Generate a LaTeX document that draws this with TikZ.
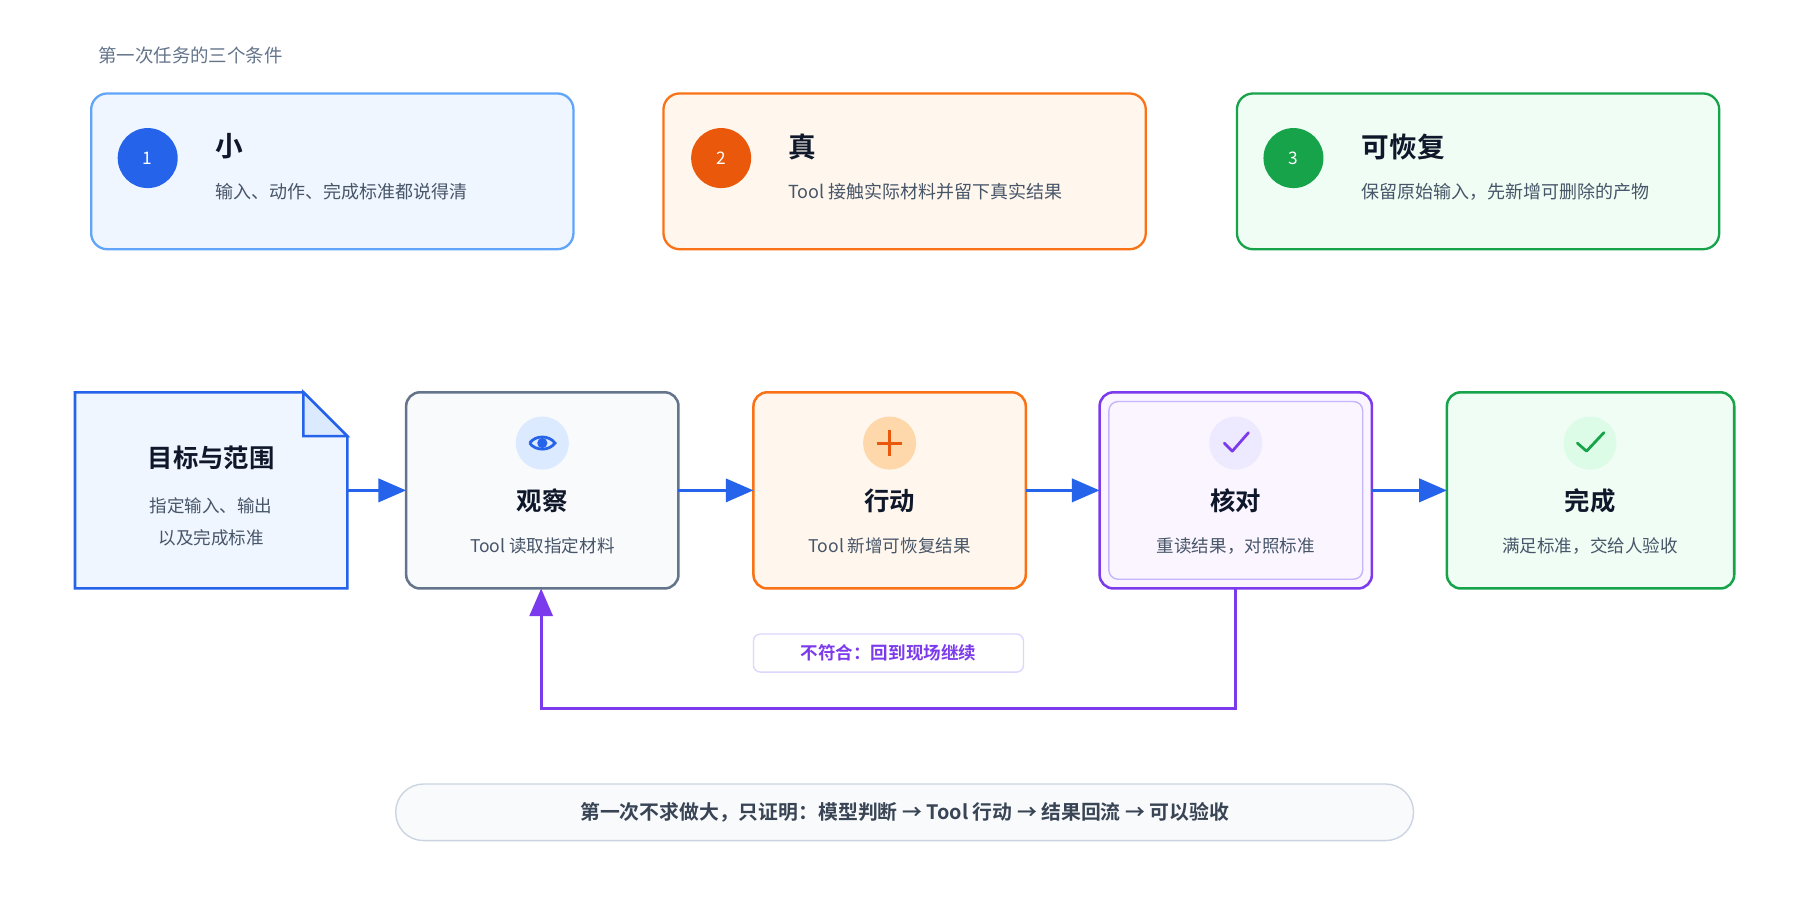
\documentclass[tikz,border=0pt]{standalone}
\usepackage{fontspec}
\setmainfont{Noto Sans CJK SC}
\newfontfamily\cjkb{Noto Sans CJK SC Bold}
\usetikzlibrary{arrows.meta}
\definecolor{tx}{HTML}{0F172A}
\definecolor{sub}{HTML}{475569}
\definecolor{bl}{HTML}{2563EB}
\definecolor{or}{HTML}{F97316}
\definecolor{ord}{HTML}{EA580C}
\definecolor{gr}{HTML}{16A34A}
\definecolor{pu}{HTML}{7C3AED}
\definecolor{sl}{HTML}{64748B}
\definecolor{lb}{HTML}{60A5FA}
\definecolor{fb}{HTML}{EFF6FF}
\definecolor{fb2}{HTML}{DBEAFE}
\definecolor{fo}{HTML}{FFF7ED}
\definecolor{fo2}{HTML}{FED7AA}
\definecolor{fg}{HTML}{F0FDF4}
\definecolor{fg2}{HTML}{DCFCE7}
\definecolor{fp}{HTML}{FAF5FF}
\definecolor{fp2}{HTML}{EDE9FE}
\definecolor{fp3}{HTML}{C4B5FD}
\definecolor{fp4}{HTML}{DDD6FE}
\definecolor{fs}{HTML}{F8FAFC}
\definecolor{bs}{HTML}{CBD5E1}
\begin{document}
\begin{tikzpicture}[x=0.5pt,y=-0.5pt,
  card/.style={rounded corners=7pt,line width=1pt},
  box/.style={rounded corners=6pt,line width=1.1pt},
  num/.style={circle,minimum size=26pt,inner sep=0,text=white,font=\fontsize{7.5}{8}\selectfont},
  head/.style={anchor=west,text=tx,font=\cjkb\fontsize{12}{13}\selectfont},
  desc/.style={anchor=west,text=sub,font=\fontsize{7.8}{9}\selectfont},
  ttl/.style={text=tx,font=\cjkb\fontsize{11}{12}\selectfont},
  st/.style={text=sub,font=\fontsize{7.6}{9}\selectfont},
  flow/.style={bl,line width=1.5pt,-{Triangle[length=12pt,width=10pt]}},
  icon/.style={circle,minimum size=23pt,inner sep=0}]
\path[use as bounding box] (0,0) rectangle (1560,780);
\fill[white] (0,0) rectangle (1560,780);
\node[anchor=west,text=sl,font=\fontsize{8}{9}\selectfont] (t0) at (78,48) {第一次任务的三个条件};
% cards
\draw[card,draw=lb,fill=fb] (79,81) rectangle (497,216);
\node[num,fill=bl] (n1) at (128,137) {1};
\node[head] (h1) at (180,127) {小};
\node[desc] (d1) at (180,166) {输入、动作、完成标准都说得清};
\draw[card,draw=or,fill=fo] (575,81) rectangle (993,216);
\node[num,fill=ord] (n2) at (625,137) {2};
\node[head] (h2) at (676,127) {真};
\node[desc] (d2) at (676,166) {Tool 接触实际材料并留下真实结果};
\draw[card,draw=gr,fill=fg] (1072,81) rectangle (1490,216);
\node[num,fill=gr] (n3) at (1121,137) {3};
\node[head] (h3) at (1173,127) {可恢复};
\node[desc] (d3) at (1173,166) {保留原始输入，先新增可删除的产物};
% doc
\draw[line width=1.1pt,draw=bl,fill=fb] (65,340) -- (263,340) -- (301,378) -- (301,510) -- (65,510) -- cycle;
\draw[line width=1.1pt,draw=bl,fill=fb2] (263,340) -- (263,378) -- (301,378) -- cycle;
\node[ttl] (doc) at (183,397) {目标与范围};
\node[st,align=center] (docs) at (183,452) {指定输入、输出\\[5pt]以及完成标准};
\coordinate (docR) at (301,425);
% boxes
\draw[box,draw=sl,fill=fs] (352,340) rectangle (588,510);
\node[icon,fill=fb2] (i1) at (470,384) {};
\draw[bl,line width=1.2pt] (459,384) .. controls (464,377) and (476,377) .. (481,384) .. controls (476,391) and (464,391) .. (459,384);
\fill[bl] (470,384) circle (2.2pt);
\node[ttl] (b1) at (470,434) {观察};
\node[st] (s1) at (470,473) {Tool 读取指定材料};
\coordinate (b1L) at (352,425); \coordinate (b1R) at (588,425);

\draw[box,draw=or,fill=fo] (653,340) rectangle (889,510);
\node[icon,fill=fo2] (i2) at (771,384) {};
\draw[ord,line width=1.3pt] (760,384) -- (782,384) (771,373) -- (771,395);
\node[ttl] (b2) at (771,434) {行动};
\node[st] (s2) at (771,473) {Tool 新增可恢复结果};
\coordinate (b2L) at (653,425); \coordinate (b2R) at (889,425);

\draw[box,draw=pu,fill=fp] (953,340) rectangle (1189,510);
\draw[rounded corners=4pt,draw=fp3,line width=0.6pt] (961,348) rectangle (1181,502);
\node[icon,fill=fp2] (i3) at (1071,384) {};
\draw[pu,line width=1.2pt,line cap=round,line join=round] (1061,384) -- (1068,391) -- (1082,375);
\node[ttl] (b3) at (1071,434) {核对};
\node[st] (s3) at (1071,473) {重读结果，对照标准};
\coordinate (b3L) at (953,425); \coordinate (b3R) at (1189,425);
\coordinate (b3B) at (1071,510);

\draw[box,draw=gr,fill=fg] (1254,340) rectangle (1503,510);
\node[icon,fill=fg2] (i4) at (1378,384) {};
\draw[gr,line width=1.2pt,line cap=round,line join=round] (1367,384) -- (1375,391) -- (1390,375);
\node[ttl] (b4) at (1378,434) {完成};
\node[st] (s4) at (1378,473) {满足标准，交给人验收};
\coordinate (b4L) at (1254,425);
\coordinate (b1B) at (469,510);
% arrows
\draw[flow] (docR) -- (b1L);
\draw[flow] (b1R) -- (b2L);
\draw[flow] (b2R) -- (b3L);
\draw[flow] (b3R) -- (b4L);
\draw[pu,line width=1.3pt,-{Triangle[length=12pt,width=10pt]}] (b3B) -- (1071,614) -- (469,614) -- (b1B);
\node[draw=fp4,fill=white,rounded corners=3pt,line width=0.6pt,minimum width=117pt,minimum height=16.5pt,text=pu,font=\cjkb\fontsize{7.6}{8}\selectfont] (lbl) at (770,566) {不符合：回到现场继续};
% bottom
\node[draw=bs,fill=fs,rounded corners=12pt,line width=0.6pt,minimum width=441pt,minimum height=24.5pt,text=sub!80!black,font=\cjkb\fontsize{8.6}{9}\selectfont] (pill) at (784,704) {第一次不求做大，只证明：模型判断 → Tool 行动 → 结果回流 → 可以验收};
\end{tikzpicture}
\end{document}
